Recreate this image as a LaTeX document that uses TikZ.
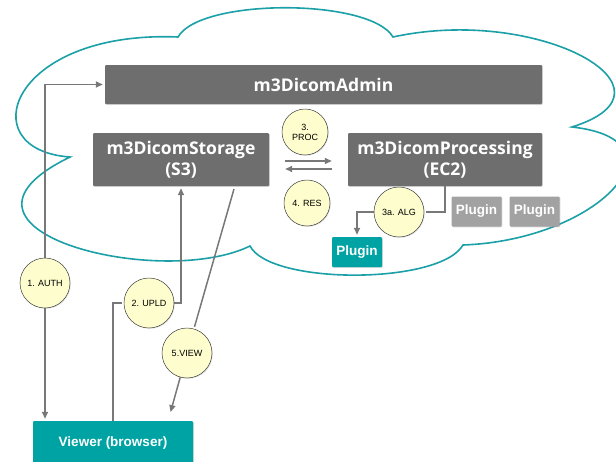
\documentclass[tikz,border=0pt]{standalone}
\usepackage{fontspec}
\setmainfont{Liberation Sans}
\newfontfamily\boxfont{Open Sans}
\usetikzlibrary{arrows.meta,shadows}

\pgfdeclarelayer{cloudlayer}
\pgfdeclarelayer{lines}
\pgfsetlayers{cloudlayer,lines,main}

\definecolor{boxgray}{RGB}{110,110,110}
\definecolor{plugray}{RGB}{162,162,162}
\definecolor{tealbox}{RGB}{0,163,163}
\definecolor{cloudline}{RGB}{28,160,168}
\definecolor{linegray}{RGB}{120,120,120}
\definecolor{bubblefill}{RGB}{253,253,205}

\begin{document}
\begin{tikzpicture}[x=1pt, y=-1pt,
    box/.style={rectangle, fill=boxgray, text=white, rounded corners=1pt, inner sep=0pt, align=center,
        font=\boxfont\bfseries\fontsize{17.5}{21}\selectfont,
        drop shadow={shadow xshift=0.8pt, shadow yshift=-0.8pt, opacity=0.3}},
    plugin/.style={rectangle, text=white, rounded corners=1pt, inner sep=0pt,
        minimum width=50pt, minimum height=30pt, font=\bfseries\fontsize{13.5}{16}\selectfont,
        drop shadow={shadow xshift=0.8pt, shadow yshift=-0.8pt, opacity=0.3}},
    bubble/.style={circle, draw=black!75, line width=0.5pt, fill=bubblefill, inner sep=0pt, align=center,
        font=\fontsize{9}{10}\selectfont,
        drop shadow={shadow xshift=0.8pt, shadow yshift=-0.8pt, opacity=0.25}},
    flow/.style={draw=linegray, line width=1.5pt, shorten >=2pt},
    cloud/.style={draw=cloudline, line width=1.6pt, fill=white},
    >={Triangle[length=7pt, width=6pt]}]
    \useasboundingbox (0,0) rectangle (616,461);

    % the cloud
    \begin{pgfonlayer}{cloudlayer}
    \draw[cloud] (178,37) .. controls (200,-2) and (370,-2) .. (393,37)
        .. controls (540,5) and (690,90) .. (572,127)
        .. controls (690,140) and (600,240) .. (463,245)
        .. controls (440,285) and (270,285) .. (250,246)
        .. controls (160,290) and (-80,230) .. (70,157)
        .. controls (-30,150) and (10,30) .. cycle;
    \end{pgfonlayer}

    \node[box, minimum width=437pt, minimum height=39pt] (admin) at (323.5, 84.5) {m3DicomAdmin};
    \node[box, minimum width=176pt, minimum height=53pt] (storage) at (181, 159.5) {m3DicomStorage\\(S3)};
    \node[box, minimum width=194pt, minimum height=53pt] (proc) at (445, 159.5) {m3DicomProcessing\\(EC2)};
    \node[plugin, fill=tealbox] (plugA) at (357, 252) {Plugin};
    \node[plugin, fill=plugray] (plugB) at (476.5, 211.5) {Plugin};
    \node[plugin, fill=plugray] (plugC) at (534.5, 211.5) {Plugin};
    \node[plugin, fill=tealbox, minimum width=160pt, minimum height=44pt] (viewer) at (113, 443) {Viewer (browser)};

    \node[bubble, minimum size=50pt] (auth) at (45, 283) {1. AUTH};
    \node[bubble, minimum size=50pt] (upld) at (149, 303) {2. UPLD};
    \node[bubble, minimum size=46pt] (procstep) at (305, 132) {3.\\PROC};
    \node[bubble, minimum size=46pt] (res) at (307, 203) {4. RES};
    \node[bubble, minimum size=50pt] (alg) at (399, 212) {3a. ALG};
    \node[bubble, minimum size=50pt] (view) at (187, 353) {5.VIEW};

    \coordinate (vs) at (234, 189);
    \coordinate (ve) at (170, 414);

    \begin{pgfonlayer}{lines}
    \draw[flow, ->] (auth) -- (auth |- viewer.north);
    \draw[flow, ->] (auth) |- (admin.west);
    \draw[flow] (viewer.north) |- (upld);
    \draw[flow, ->] (upld) -| (storage.south);
    \draw[flow] (vs) -- (view);
    \draw[flow, ->] (view) -- (ve);
    \draw[flow, ->, shorten <=16pt, shorten >=16pt] ([yshift=-1.5pt]storage.east) -- ([yshift=-1.5pt]proc.west);
    \draw[flow, ->, shorten <=16pt, shorten >=16pt] ([yshift=-9.5pt]proc.west) -- ([yshift=-9.5pt]storage.east);
    \draw[flow] (proc.south) |- (alg);
    \draw[flow, ->] (alg) -| (plugA.north);
    \end{pgfonlayer}
\end{tikzpicture}
\end{document}
